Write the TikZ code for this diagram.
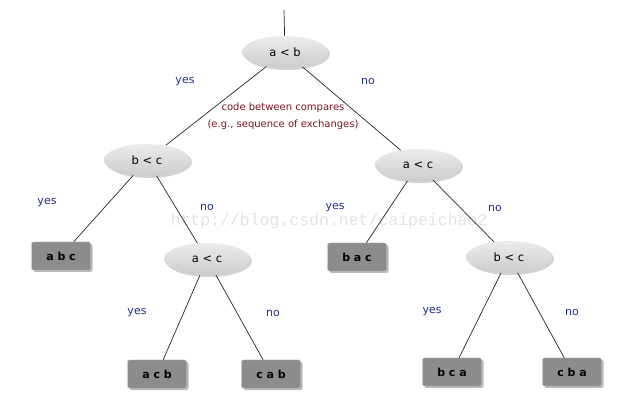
\documentclass[tikz,border=0pt]{standalone}
\usepackage{fontspec}
\setmainfont{DejaVu Sans}
\setmonofont{Liberation Mono}
\usetikzlibrary{shapes.geometric, shadows}
\definecolor{answer}{RGB}{35,45,145}
\definecolor{note}{RGB}{125,20,40}

\begin{document}
\begin{tikzpicture}[x=1pt, y=-1pt,
    compare/.style={ellipse, shading=axis, top color=gray!15, bottom color=gray!40,
        minimum width=86pt, minimum height=32pt, inner sep=1pt, font=\fontsize{11.5}{13}\selectfont,
        drop shadow={opacity=0.35, shadow xshift=2pt, shadow yshift=-2pt}},
    order/.style={rectangle, rounded corners=2pt, draw=gray!55, fill=black!45,
        minimum width=59pt, minimum height=28pt, inner sep=1pt, font=\bfseries\fontsize{11}{13}\selectfont,
        drop shadow={opacity=0.55, shadow xshift=2pt, shadow yshift=-2pt}},
    answer/.style={text=answer, font=\fontsize{11}{13}\selectfont},
    edge/.style={line width=0.7pt, black!85, -}
]
    \useasboundingbox (0,0) rectangle (637,419);
    \node[font=\ttfamily\fontsize{16.5}{18}\selectfont, text=gray!22] (mark) at (329,221) {http://blog.csdn.net/caipeichao2};
    \coordinate (top) at (284,10);
    \node[compare] (ab) at (285,52) {a < b};
    \node[compare] (bc) at (147,160) {b < c};
    \node[compare] (ac) at (418,165) {a < c};
    \node[compare] (ac2) at (207,259) {a < c};
    \node[compare] (bc2) at (509,257) {b < c};
    \node[order] (abc) at (61,256) {a b c};
    \node[order] (bac) at (357,257) {b a c};
    \node[order] (acb) at (157,374) {a c b};
    \node[order] (cab) at (271,374) {c a b};
    \node[order] (bca) at (452,372) {b c a};
    \node[order] (cba) at (572,372) {c b a};
    \draw[edge] (top) -- (ab);
    \draw[edge] (ab) -- (bc);
    \draw[edge] (ab) -- (ac);
    \draw[edge] (bc) -- (abc);
    \draw[edge] (bc) -- (ac2);
    \draw[edge] (ac2) -- (acb);
    \draw[edge] (ac2) -- (cab);
    \draw[edge] (ac) -- (bac);
    \draw[edge] (ac) -- (bc2);
    \draw[edge] (bc2) -- (bca);
    \draw[edge] (bc2) -- (cba);
    \node[answer] (y1) at (185,82) {yes};
    \node[answer] (n1) at (368,82) {no};
    \node[answer] (y2) at (47,203) {yes};
    \node[answer] (n2) at (207,207) {no};
    \node[answer] (y3) at (137,313) {yes};
    \node[answer] (n3) at (273,313) {no};
    \node[answer] (y4) at (335,208) {yes};
    \node[answer] (n4) at (495,208) {no};
    \node[answer] (y5) at (432,312) {yes};
    \node[answer] (n5) at (572,312) {no};
    \node[text=note, font=\fontsize{10}{17}\selectfont, align=center] (code) at (283,116)
        {code between compares\\(e.g., sequence of exchanges)};
\end{tikzpicture}
\end{document}
